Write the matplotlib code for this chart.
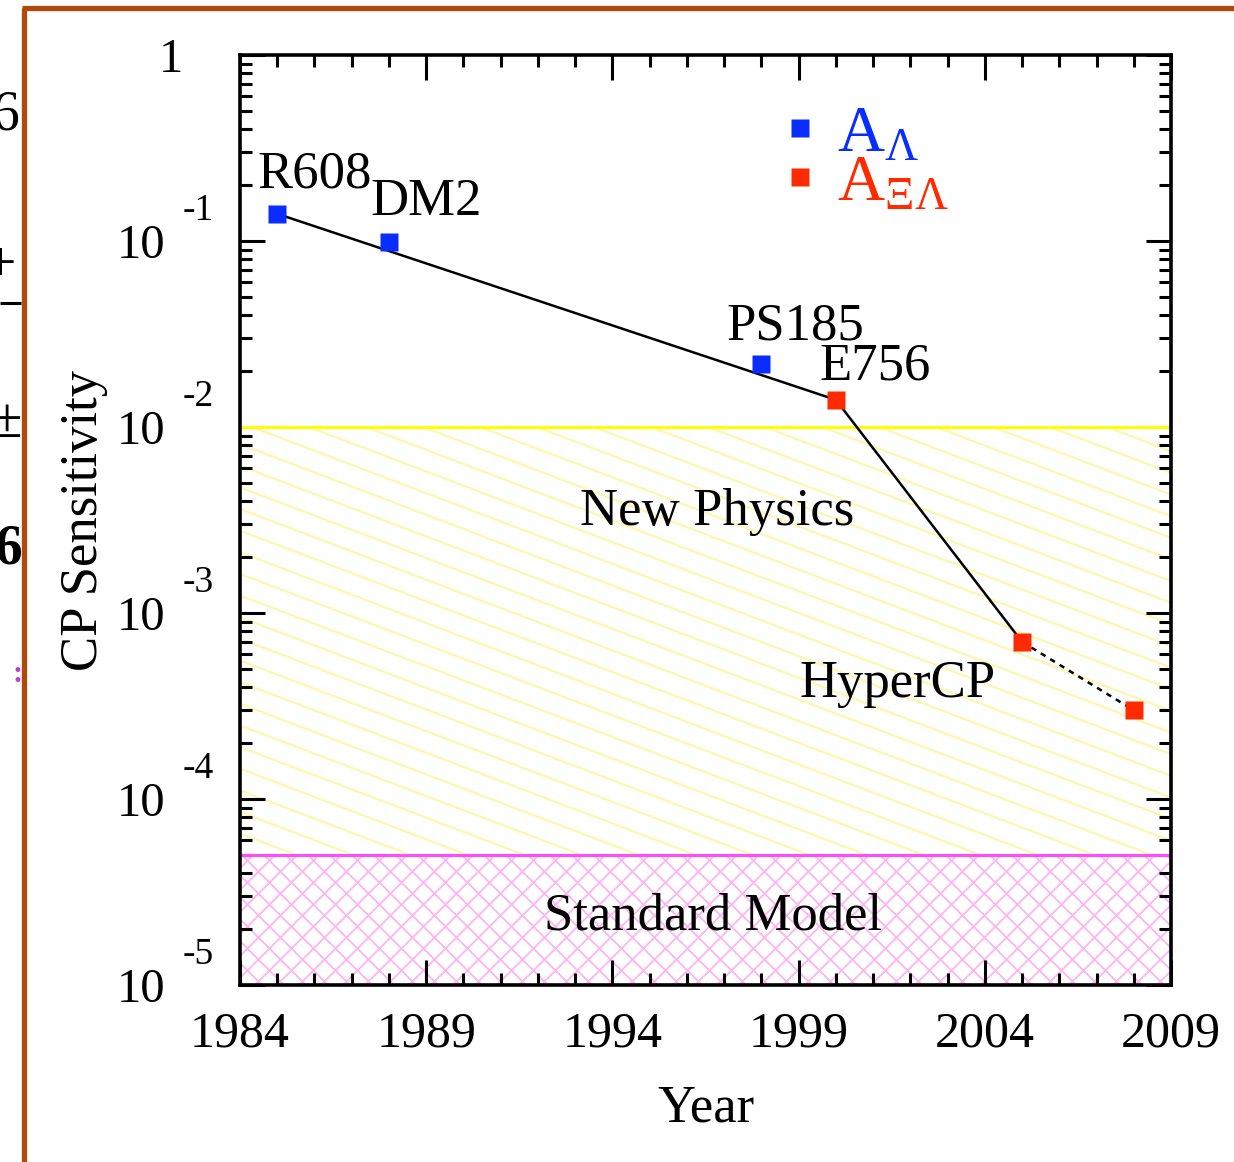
import numpy as np
import matplotlib.pyplot as plt
from matplotlib import transforms
from matplotlib.collections import LineCollection
from matplotlib.lines import Line2D
from matplotlib.ticker import MultipleLocator, LogLocator, NullFormatter

plt.rcParams['font.family'] = ['Liberation Serif', 'DejaVu Serif']
plt.rcParams['mathtext.fontset'] = 'custom'
plt.rcParams['mathtext.rm'] = 'Liberation Serif'
plt.rcParams['mathtext.it'] = 'Liberation Serif:italic'

# Lambda asymmetry measurements
lam_years = [1985, 1988, 1998]
lam_sens = [0.14, 0.099, 0.0218]
lam_names = ['R608', 'DM2', 'PS185']

# Xi-Lambda asymmetry measurements (last one is the projected reach)
xi_years = [2000, 2005, 2008]
xi_sens = [0.014, 7.0e-4, 3.0e-4]
xi_names = ['E756', 'HyperCP', '']

# trend line: R608 -> E756 -> HyperCP, then dotted to the projection
trend_years = [lam_years[0], xi_years[0], xi_years[1]]
trend_sens = [lam_sens[0], xi_sens[0], xi_sens[1]]

np_limit = 1e-2     # top of the new-physics band
sm_limit = 5e-5     # top of the standard-model band
y_exps = [-5, -4, -3, -2, -1, 0]
x_major = [1984, 1989, 1994, 1999, 2004, 2009]

BLUE = '#0a2dff'
RED = '#ff2a00'
BROWN = '#b04a0a'

W, H = 1234, 1162
fig = plt.figure(figsize=(W / 100, H / 100), dpi=100)
ax = fig.add_axes([240 / W, 1 - 985 / H, 931 / W, 930 / H])
ax.set_xlim(1984, 2009)
ax.set_yscale('log')
ax.set_ylim(1e-5, 1)


def hatch(ax, lo, hi, slopes, step, color, lw):
    patch = ax.axhspan(lo, hi, facecolor='none', edgecolor='none', zorder=1)
    segs = []
    for s in slopes:
        start = min(0.0, -1.0 / s)
        stop = max(1.0, 1.0 - 1.0 / s)
        for xk in np.arange(start - step, stop + step, step):
            segs.append([(-2, s * (-2 - xk)), (3, s * (3 - xk))])
    lc = LineCollection(segs, colors=color, linewidths=lw,
                        transform=ax.transAxes, zorder=1)
    ax.add_collection(lc, autolim=False)
    lc.set_clip_path(patch)


hatch(ax, sm_limit, np_limit, [-0.38], 57 / 931, '#fff6b4', 1.7)
hatch(ax, 1e-5, sm_limit, [1.0, -1.0], 22 / 931, '#ffb4f2', 1.3)
ax.axhline(np_limit, color='#ffff00', lw=2.2, zorder=2)
ax.axhline(sm_limit, color='#ff4cff', lw=2.2, zorder=2)

ax.plot(trend_years, trend_sens, color='black', lw=1.8, zorder=3)
ax.plot(xi_years[1:], xi_sens[1:], color='black', lw=1.8,
        dashes=(2.2, 2.2), zorder=3)

ax.plot(lam_years, lam_sens, 's', color=BLUE, ms=13, mec='none', zorder=4,
        label=r'A$_{\Lambda}$')
ax.plot(xi_years, xi_sens, 's', color=RED, ms=13, mec='none', zorder=4,
        label=r'A$_{\Xi\Lambda}$')

# experiment labels, offsets in points from each marker
offsets = {'R608': (-14, 19), 'DM2': (-13, 19.5), 'PS185': (-25, 17.5),
           'E756': (-12, 14.5), 'HyperCP': (-160, -39.5)}
for yr, v, name in zip(lam_years + xi_years, lam_sens + xi_sens,
                       lam_names + xi_names):
    if name:
        ax.annotate(name, (yr, v), xytext=offsets[name],
                    textcoords='offset points', fontsize=38,
                    ha='left', va='baseline', zorder=5)

ax.text(1996.8, 0.00297, 'New Physics', fontsize=38, ha='center',
        va='baseline', zorder=5)
ax.text(1996.7, 1.98e-5, 'Standard Model', fontsize=38, ha='center',
        va='baseline', zorder=5)

leg = ax.legend(loc='upper left', bbox_to_anchor=(0.581, 0.946),
                frameon=False, fontsize=47, handlelength=0.58,
                handletextpad=0.28, labelspacing=-0.17, borderpad=0,
                borderaxespad=0, markerscale=1.0, labelcolor='markerfacecolor')

# axis ticks
ax.set_xticks(x_major)
ax.xaxis.set_minor_locator(MultipleLocator(1))
ax.set_yticks([10.0 ** e for e in y_exps])
ax.yaxis.set_minor_locator(LogLocator(base=10, subs=np.arange(2, 10), numticks=20))
ax.yaxis.set_major_formatter(NullFormatter())
ax.yaxis.set_minor_formatter(NullFormatter())
ax.tick_params(which='both', direction='in', top=True, right=True, width=2.2)
ax.tick_params(which='major', length=18)
ax.tick_params(which='minor', length=8.5)
ax.tick_params(axis='x', which='major', labelsize=36, pad=19)
for sp in ax.spines.values():
    sp.set_linewidth(2.6)
    sp.set_zorder(6)

# y tick labels written as 10 with a raised exponent
ytrans = transforms.blended_transform_factory(ax.transAxes, ax.transData)
for e in y_exps:
    v = 10.0 ** e
    if e == 0:
        ax.annotate('1', (0, v), xycoords=ytrans, xytext=(-49.5, -12.2),
                    textcoords='offset points', fontsize=35,
                    ha='center', va='baseline')
    else:
        ax.annotate('10', (0, v), xycoords=ytrans, xytext=(-54, -12.2),
                    textcoords='offset points', fontsize=35,
                    ha='right', va='baseline')
        ax.annotate('-%d' % -e, (0, v), xycoords=ytrans, xytext=(-41, 15),
                    textcoords='offset points', fontsize=27,
                    ha='left', va='baseline')

ax.set_xlabel('Year', fontsize=38)
ax.xaxis.set_label_coords(0.5, -0.107)
ax.set_ylabel('CP Sensitivity', fontsize=38)
ax.yaxis.set_label_coords(-0.142, 0.5)

# slide frame and the clipped text of the neighbouring slide
fig.add_artist(Line2D([24 / W, 24 / W], [0, 1 - 8 / H], color=BROWN, lw=3.8,
                      solid_capstyle='butt'))
fig.add_artist(Line2D([22 / W, 1], [1 - 8 / H, 1 - 8 / H], color=BROWN, lw=3.8,
                      solid_capstyle='butt'))
fig.text(19 / W, 1 - 130 / H, '6', fontsize=40, ha='right', va='baseline')
fig.text(16 / W, 1 - 281 / H, '+', fontsize=40, ha='right', va='baseline')
fig.add_artist(Line2D([0, 21 / W], [1 - 303 / H, 1 - 303 / H], color='black',
                      lw=2.2, solid_capstyle='butt'))
fig.text(7 / W, 1 - 437 / H, '\u00b1', fontsize=40, ha='center', va='baseline')
fig.text(22 / W, 1 - 563 / H, '6', fontsize=40, fontweight='bold',
         ha='right', va='baseline')
fig.text(23 / W, 1 - 682 / H, ':', fontsize=22, fontweight='bold',
         color='#c23ccc', ha='right', va='baseline')

fig.savefig('out.png', dpi=100)
